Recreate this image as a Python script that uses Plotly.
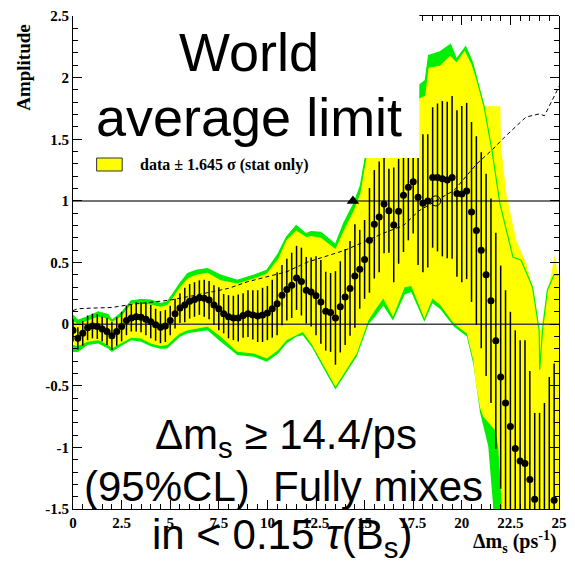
import plotly.graph_objects as go

# ---------------- data ----------------
dms = [0.0, 0.25, 0.5, 0.75, 1.0, 1.25, 1.5, 1.75, 2.0, 2.25, 2.5, 2.75, 3.0, 3.25, 3.5, 3.75,
       4.0, 4.25, 4.5, 4.75, 5.0, 5.25, 5.5, 5.75, 6.0, 6.25, 6.5, 6.75, 7.0, 7.25, 7.5, 7.75,
       8.0, 8.25, 8.5, 8.75, 9.0, 9.25, 9.5, 9.75, 10.0, 10.25, 10.5, 10.75, 11.0, 11.25, 11.5, 11.75,
       12.0, 12.25, 12.5, 12.75, 13.0, 13.25, 13.5, 13.75, 14.0, 14.25, 14.5, 14.75, 15.0, 15.25, 15.5, 15.75,
       16.0, 16.25, 16.5, 16.75, 17.0, 17.25, 17.5, 17.75, 18.0, 18.25, 18.5, 18.75, 19.0, 19.25, 19.5, 19.75,
       20.0, 20.25, 20.5, 20.75, 21.0, 21.25, 21.5, 21.75, 22.0, 22.25, 22.5, 22.75, 23.0, 23.25, 23.5, 23.75,
       24.0, 24.25, 24.5, 24.75]

amplitude = [-0.05, -0.115, -0.075, -0.03, -0.015, -0.02, -0.04, -0.06,
             -0.095, -0.06, -0.02, 0.03, 0.05, 0.06, 0.055, 0.04,
             0.02, -0.005, -0.025, -0.015, 0.03, 0.085, 0.13, 0.155,
             0.185, 0.2, 0.215, 0.21, 0.195, 0.155, 0.125, 0.085,
             0.06, 0.05, 0.05, 0.07, 0.085, 0.075, 0.065, 0.075,
             0.09, 0.125, 0.165, 0.235, 0.28, 0.315, 0.375, 0.345,
             0.275, 0.26, 0.23, 0.18, 0.105, 0.095, 0.05, 0.14,
             0.22, 0.29, 0.39, 0.445, 0.525, 0.68, 0.81, 0.87,
             0.975, 0.92, 0.805, 0.915, 1.045, 1.11, 1.155, 1.03,
             0.98, 1.0, 1.19, 1.19, 1.18, 1.17, 1.19, 1.06,
             1.055, 1.08, 0.91, 0.76, 0.60, 0.40, 0.19, -0.135,
             -0.43, -0.64, -0.83, -1.01, -1.11, -1.13, -1.26, -1.42,
             -1.62, -1.6, -1.53, -1.43]

sigma = [0.09, 0.09, 0.10, 0.10, 0.10, 0.10, 0.10, 0.11,
         0.115, 0.115, 0.12, 0.12, 0.11, 0.12, 0.12, 0.13,
         0.135, 0.13, 0.13, 0.13, 0.12, 0.12, 0.12, 0.14,
         0.14, 0.14, 0.14, 0.15, 0.155, 0.16, 0.175, 0.16,
         0.175, 0.18, 0.19, 0.18, 0.19, 0.20, 0.21, 0.22,
         0.22, 0.235, 0.255, 0.245, 0.25, 0.265, 0.26, 0.275,
         0.27, 0.28, 0.32, 0.34, 0.32, 0.32, 0.38, 0.37,
         0.39, 0.385, 0.42, 0.32, 0.32, 0.425, 0.44, 0.45,
         0.40, 0.34, 0.465, 0.425, 0.46, 0.43, 0.42, 0.55,
         0.56, 0.54, 0.57, 0.60, 0.63, 0.635, 0.66, 0.675,
         0.715, 0.715, 0.73, 0.765, 0.795, 0.82, 0.83, 0.877,
         0.905, 0.915, 0.93, 0.96, 0.98, 1.0, 0.88, 0.70,
         0.9, 0.96, 1.1, 1.11]

# yellow band (data +- 1.645 sigma, stat only): upper / lower edges
yel_up_x = [0.0, 0.25, 0.75, 1.3, 1.8, 2.0, 2.45, 3.0, 3.5, 4.0, 4.5, 4.85, 5.2, 5.5, 5.9, 6.33, 6.92,
            7.6, 8.45, 9.3, 9.97, 10.56, 10.98, 11.48, 11.99, 12.25, 12.75, 13.5, 13.93, 14.44, 14.78,
            15.03, 15.2, 15.6, 17.75, 17.78, 18.12, 18.29, 18.88, 19.39, 19.73, 20.15, 20.49, 20.83,
            21.09, 21.2, 21.98, 22.02, 22.3, 22.8, 23.3, 23.64, 23.9, 24.06, 24.32, 24.66, 24.79, 24.91, 25.0]
yel_up_y = [0.03, 0.0, 0.03, 0.06, 0.045, 0.02, 0.06, 0.165, 0.17, 0.16, 0.14, 0.155, 0.23, 0.30, 0.37, 0.40, 0.416,
            0.356, 0.33, 0.37, 0.41, 0.53, 0.68, 0.76, 0.707, 0.715, 0.70, 0.61, 0.76, 0.92, 1.06,
            1.275, 1.45, 1.6, 1.6, 1.827, 1.854, 2.08, 2.097, 2.178, 2.124, 2.218, 2.11, 1.948,
            1.786, 1.768, 1.768, 1.44, 1.05, 0.68, 0.50, 0.30, 0.03, -0.05, 0.19, 0.46, 0.57, 0.41, 0.41]
yel_lo_x = [0.0, 0.25, 0.75, 1.3, 1.8, 2.0, 2.45, 3.0, 3.5, 4.0, 4.5, 4.85, 5.2, 5.5, 5.9, 6.92, 7.6,
            8.45, 9.3, 9.97, 10.56, 10.98, 11.48, 11.82, 12.3, 12.93, 13.5, 13.93, 14.6, 15.2, 15.53,
            15.96, 16.46, 17.06, 17.4, 18.07, 18.49, 18.9, 19.59, 20.26, 20.6, 20.69, 20.94, 21.1, 21.7,
            21.87, 22.04, 22.1, 25.0]
yel_lo_y = [-0.17, -0.18, -0.143, -0.13, -0.17, -0.197, -0.157, -0.11, -0.117, -0.157, -0.178, -0.17, -0.117,
            -0.076, -0.05, -0.022, -0.103, -0.224, -0.238, -0.278, -0.21, -0.13, -0.09, -0.063, -0.17, -0.346,
            -0.508, -0.4, -0.237, 0.032, 0.113, 0.208, 0.06, 0.30, 0.31, 0.046, 0.208, 0.154, 0.005, -0.076,
            -0.3, -0.45, -0.68, -0.75, -0.86, -0.99, -1.43, -1.6, -1.6]

# green band (with systematics): upper / lower edges
grn_up_x = [0.0, 0.25, 0.75, 1.3, 1.8, 2.0, 2.45, 3.0, 3.5, 4.0, 4.5, 4.85, 5.2, 5.5, 5.9, 6.33, 6.92,
            7.6, 8.45, 9.3, 9.97, 10.56, 10.98, 11.48, 11.99, 12.25, 12.75, 13.5, 13.93, 14.44, 14.78,
            15.03, 15.2, 15.6, 17.75, 17.78, 18.12, 18.29, 18.88, 19.42, 19.73, 20.2, 20.55, 20.89,
            21.14, 21.56, 21.96, 22.63, 23.05, 23.64, 23.98, 24.01, 24.15, 24.4, 24.74, 25.0]
grn_up_y = [0.073, 0.03, 0.06, 0.10, 0.078, 0.032, 0.086, 0.19, 0.20, 0.194, 0.167, 0.18, 0.26, 0.33, 0.41,
            0.437, 0.45, 0.397, 0.356, 0.397, 0.437, 0.572, 0.707, 0.80, 0.734, 0.75, 0.745, 0.647, 0.82,
            0.976, 1.12, 1.34, 1.5, 1.65, 1.65, 1.935, 1.976, 2.18, 2.21, 2.27, 2.15, 2.25, 2.124, 1.92,
            1.77, 1.40, 0.977, 0.545, 0.518, 0.30, -0.05, -0.37, -0.05, 0.275, 0.40, 0.40]
grn_lo_x = [0.0, 0.25, 0.75, 1.3, 1.8, 2.0, 2.45, 3.0, 3.5, 4.0, 4.5, 4.85, 5.2, 5.5, 5.9, 6.92, 7.6,
            8.45, 9.3, 9.97, 10.56, 10.98, 11.48, 11.82, 12.3, 12.93, 13.5, 13.93, 14.6, 15.2, 15.53,
            15.96, 16.46, 17.06, 17.4, 18.07, 18.49, 18.9, 19.59, 20.26, 20.6, 20.94, 21.36, 21.6, 21.65, 25.0]
grn_lo_y = [-0.227, -0.227, -0.17, -0.157, -0.197, -0.227, -0.18, -0.13, -0.143, -0.18, -0.2, -0.197, -0.143,
            -0.103, -0.075, -0.049, -0.143, -0.25, -0.265, -0.305, -0.238, -0.157, -0.103, -0.09, -0.19, -0.37,
            -0.53, -0.42, -0.26, 0.0, 0.06, 0.15, 0.03, 0.24, 0.26, 0.02, 0.17, 0.12, -0.02, -0.1,
            -0.33, -0.72, -0.99, -1.45, -1.6, -1.6]

# 1.645 sigma sensitivity curve (dashed)
sens_x = [0.0, 0.25, 1.0, 2.0, 3.0, 4.0, 5.0, 6.0, 7.0, 8.0, 9.0, 10.0, 11.0, 12.0, 13.0, 14.0, 15.0, 16.0,
          17.0, 17.8, 18.66, 19.6, 20.77, 21.6, 22.2, 23.3, 24.0, 24.25, 24.9, 25.0]
sens_y = [0.11, 0.125, 0.13, 0.135, 0.16, 0.175, 0.195, 0.225, 0.255, 0.29, 0.345, 0.385, 0.425, 0.50, 0.55,
          0.60, 0.67, 0.74, 0.80, 0.92, 1.0, 1.085, 1.30, 1.42, 1.517, 1.68, 1.706, 1.69, 1.895, 1.93]

limit_x, limit_y = [14.4], [1.0]
sensitivity_x, sensitivity_y = [18.66], [1.0]
ref_levels = [0.0, 1.0]

X_RANGE = [0, 25]
Y_RANGE = [-1.5, 2.5]
YTICK_VALS = [-1.5, -1.0, -0.5, 0.0, 0.5, 1.0, 1.5, 2.0, 2.5]
YTICK_TEXT = ["-1.5", "-1", "-0.5", "0", "0.5", "1", "1.5", "2", "2.5"]

# ---------------- layout geometry ----------------
W, H = 575, 566
ML, MR, MT, MB = 73, 8, 16, 57
PW = W - ML - MR
PH = H - MT - MB


def px_x(px):
    return (px - ML) / PW


def px_y(py):
    return (H - MB - py) / PH


SERIF = "Liberation Serif, Times New Roman, serif"
SANS = "Liberation Sans, Arial, sans-serif"
GREEN = "#00ee00"
YELLOW = "#ffff00"

fig = go.Figure()

fig.add_trace(go.Scatter(x=grn_up_x + grn_lo_x[::-1], y=grn_up_y + grn_lo_y[::-1],
                         fill="toself", fillcolor=GREEN, mode="lines", line=dict(width=0),
                         hoverinfo="skip", showlegend=False))
fig.add_trace(go.Scatter(x=yel_up_x + yel_lo_x[::-1], y=yel_up_y + yel_lo_y[::-1],
                         fill="toself", fillcolor=YELLOW, mode="lines", line=dict(width=0),
                         hoverinfo="skip", showlegend=False))
fig.add_trace(go.Scatter(x=grn_up_x, y=grn_up_y, mode="lines", line=dict(color=GREEN, width=1.2),
                         hoverinfo="skip", showlegend=False))
for lvl in ref_levels:
    fig.add_trace(go.Scatter(x=X_RANGE, y=[lvl, lvl], mode="lines",
                             line=dict(color="#444444", width=1.5), hoverinfo="skip", showlegend=False))
fig.add_trace(go.Scatter(x=sens_x, y=sens_y, mode="lines",
                         line=dict(color="black", width=1, dash="4px,3px"), showlegend=False))
fig.add_trace(go.Scatter(x=dms, y=amplitude, mode="markers",
                         marker=dict(color="black", size=7),
                         error_y=dict(type="data", array=sigma, visible=True, thickness=1.5, width=0,
                                      color="black"),
                         showlegend=False))
fig.add_trace(go.Scatter(x=limit_x, y=limit_y, mode="markers",
                         marker=dict(symbol="triangle-up", color="black", size=11), showlegend=False))
fig.add_trace(go.Scatter(x=sensitivity_x, y=sensitivity_y, mode="markers",
                         marker=dict(symbol="circle-open", color="black", size=10, line=dict(width=1)),
                         showlegend=False))
# invisible trace to instantiate the partial top axis
fig.add_trace(go.Scatter(x=dms, y=amplitude, xaxis="x2", mode="markers",
                         marker=dict(opacity=0), hoverinfo="skip", showlegend=False))

box_right_px = 425
top_start = X_RANGE[0] + (box_right_px - ML) / PW * (X_RANGE[1] - X_RANGE[0])

axis_common = dict(showgrid=False, zeroline=False, showline=True, linecolor="black", linewidth=1,
                   ticks="inside", tickcolor="black", tickwidth=1, ticklen=9)

fig.update_layout(
    width=W, height=H, margin=dict(l=ML, r=MR, t=MT, b=MB),
    paper_bgcolor="white", plot_bgcolor="rgba(0,0,0,0)",
    showlegend=False,
    xaxis=dict(range=X_RANGE, tick0=0, dtick=2.5, domain=[0, 1],
               tickfont=dict(family=SERIF, size=15, color="black", weight="bold"),
               minor=dict(dtick=0.5, ticks="inside", ticklen=5, tickcolor="black"),
               **axis_common),
    xaxis2=dict(range=[top_start, X_RANGE[1]], domain=[px_x(box_right_px), 1], anchor="y", side="top",
                tick0=0, dtick=2.5, showticklabels=False,
                minor=dict(dtick=0.5, ticks="inside", ticklen=5, tickcolor="black"),
                **axis_common),
    yaxis=dict(range=Y_RANGE, tickvals=YTICK_VALS, ticktext=YTICK_TEXT, mirror="ticks",
               tickfont=dict(family=SERIF, size=15, color="black", weight="bold"),
               minor=dict(dtick=0.1, ticks="inside", ticklen=5, tickcolor="black"),
               **axis_common),
)

shapes = [
    # white box behind the headline text
    dict(type="rect", xref="paper", yref="paper", x0=px_x(84), x1=px_x(box_right_px),
         y0=px_y(158), y1=px_y(-5), fillcolor="white", line=dict(width=0), layer="above"),
    # legend swatch
    dict(type="rect", xref="paper", yref="paper", x0=px_x(97), x1=px_x(123),
         y0=px_y(171), y1=px_y(158), fillcolor=YELLOW, line=dict(color="#333333", width=1), layer="above"),
]
fig.update_layout(shapes=shapes)


def text_at(text, cx, baseline, size, family, anchor="center", **kw):
    desc = 0.212 * size + 1
    fig.add_annotation(text=text, xref="paper", yref="paper", x=px_x(cx), y=px_y(baseline + desc),
                       xanchor=anchor, yanchor="bottom", showarrow=False,
                       font=dict(family=family, size=size, color="black"), **kw)


text_at("World", 252, 72, 54, SANS)
text_at("average limit", 252, 137, 54, SANS)
text_at("Δm<sub>s</sub> ≥ 14.4/ps", 290, 456, 42, SANS)
text_at("(95%CL) \u00a0Fully mixes", 287, 502, 42, SANS)
text_at("in &lt; 0.15 <i>τ</i>(B<sub>s</sub>)", 285, 556, 42, SANS)
text_at("<b>Δm<sub>s</sub> (ps<sup>-1</sup>)</b>", 567, 553, 20, SERIF, anchor="right")

fig.add_annotation(text="<b>Amplitude</b>", xref="paper", yref="paper", x=px_x(22), y=px_y(67),
                   xanchor="center", yanchor="middle", textangle=-90, showarrow=False,
                   font=dict(family=SERIF, size=19, color="black"))
fig.add_annotation(text="<b>data ± 1.645 σ (stat only)</b>", xref="paper", yref="paper",
                   x=px_x(139), y=px_y(165), xanchor="left", yanchor="middle", showarrow=False,
                   font=dict(family=SERIF, size=16, color="black"))

fig.write_html("out.html")
